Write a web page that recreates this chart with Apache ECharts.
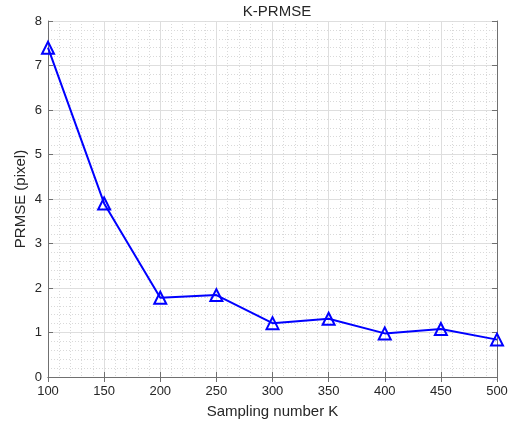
<!DOCTYPE html>
<html>
<head>
<meta charset="utf-8">
<script src="https://cdn.jsdelivr.net/npm/echarts@6/dist/echarts.min.js"></script>
<style>
  html, body { margin: 0; padding: 0; background: #fff; }
  #chart { width: 516px; height: 426px; }
</style>
</head>
<body>
<div id="chart"></div>
<script>
var samplingK = [100, 150, 200, 250, 300, 350, 400, 450, 500];
var prmse = [7.40, 3.90, 1.78, 1.84, 1.21, 1.31, 0.98, 1.08, 0.84];

var axisColor = '#707070';
var textColor = '#262626';
var fontName = 'Liberation Sans, Arial, sans-serif';

var chart = echarts.init(document.getElementById('chart'));

// top/right copies of the axes only draw the box ticks
function boxAxis(pos, isX) {
    var ax = {
        type: 'value',
        position: pos,
        min: isX ? 100 : 0,
        max: isX ? 500 : 8,
        interval: isX ? 50 : 1,
        axisLine: { show: true, lineStyle: { color: axisColor, width: 1 } },
        axisTick: { show: true, inside: true, length: 5, lineStyle: { color: axisColor } },
        axisLabel: { show: false },
        splitLine: { show: false }
    };
    return ax;
}

var xMain = {
    type: 'value',
    position: 'bottom',
    min: 100,
    max: 500,
    interval: 50,
    name: 'Sampling number K',
    nameLocation: 'middle',
    nameGap: 27,
    nameMoveOverlap: false,
    nameTextStyle: { color: textColor, fontSize: 15, fontFamily: fontName },
    axisLine: { show: true, lineStyle: { color: axisColor, width: 1 } },
    axisTick: { show: true, inside: true, length: 5, lineStyle: { color: axisColor } },
    axisLabel: { color: textColor, fontSize: 13, fontFamily: fontName, margin: 8 },
    splitLine: { show: true, lineStyle: { color: '#dedede', width: 1 } },
    minorTick: { show: false, splitNumber: 5 },
    minorSplitLine: { show: true, lineStyle: { color: '#d9d9d9', type: [1, 2], width: 1 } }
};

var yMain = {
    type: 'value',
    position: 'left',
    min: 0,
    max: 8,
    interval: 1,
    name: 'PRMSE (pixel)',
    nameLocation: 'middle',
    nameGap: 20,
    nameMoveOverlap: false,
    nameTextStyle: { color: textColor, fontSize: 15, fontFamily: fontName },
    axisLine: { show: true, lineStyle: { color: axisColor, width: 1 } },
    axisTick: { show: true, inside: true, length: 5, lineStyle: { color: axisColor } },
    axisLabel: { color: textColor, fontSize: 13, fontFamily: fontName, margin: 6 },
    splitLine: { show: true, lineStyle: { color: '#dedede', width: 1 } },
    minorTick: { show: false, splitNumber: 5 },
    minorSplitLine: { show: true, lineStyle: { color: '#d9d9d9', type: [1, 2], width: 1 } }
};

chart.setOption({
    animation: false,
    backgroundColor: '#fff',
    title: {
        text: 'K-PRMSE',
        left: 272,
        top: -1,
        textAlign: 'center',
        textStyle: { color: textColor, fontSize: 15, fontWeight: 'normal', fontFamily: fontName }
    },
    grid: { left: 48, top: 21, right: 19, bottom: 49, containLabel: false },
    xAxis: [xMain, boxAxis('top', true)],
    yAxis: [yMain, boxAxis('right', false)],
    series: [{
        type: 'line',
        xAxisIndex: 0,
        yAxisIndex: 0,
        data: samplingK.map(function (k, i) { return [k, prmse[i]]; }),
        symbol: 'triangle',
        symbolSize: 12,
        lineStyle: { color: '#0000ff', width: 2 },
        itemStyle: { color: 'rgba(255,255,255,0)', borderColor: '#0000ff', borderWidth: 2 },
        z: 5
    }]
});
</script>
</body>
</html>
